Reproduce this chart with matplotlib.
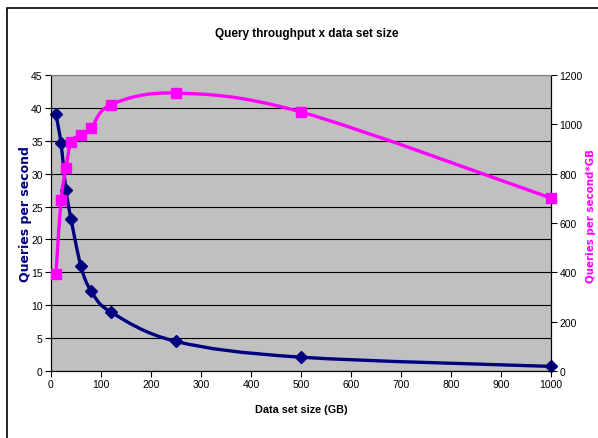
import numpy as np
import matplotlib
matplotlib.use('Agg')
import matplotlib.pyplot as plt
from matplotlib.path import Path
from matplotlib.patches import PathPatch, Rectangle

# data
size_gb = [10, 20, 30, 40, 60, 80, 120, 250, 500, 1000]
qps = [39.0, 34.6, 27.5, 23.1, 15.9, 12.2, 8.95, 4.5, 2.1, 0.7]
qps_gb = [393, 692, 823, 928, 958, 984, 1080, 1127, 1050, 701]

navy = '#000080'
magenta = '#FF00FF'

plt.rcParams['font.family'] = ['Liberation Sans', 'DejaVu Sans']


def smooth_path(x, y):
    # Excel-like smoothed line: Catmull-Rom segments turned into cubic Beziers
    x = np.asarray(x, float)
    y = np.asarray(y, float)
    pts = np.column_stack([x, y])
    verts = [pts[0]]
    codes = [Path.MOVETO]
    n = len(pts)
    for i in range(n - 1):
        p0 = pts[i - 1] if i > 0 else pts[i]
        p1 = pts[i]
        p2 = pts[i + 1]
        p3 = pts[i + 2] if i + 2 < n else pts[i + 1]
        c1 = p1 + (p2 - p0) / 6.0
        c2 = p2 - (p3 - p1) / 6.0
        verts += [c1, c2, p2]
        codes += [Path.CURVE4] * 3
    return Path(verts, codes)


W, H = 598, 439
fig = plt.figure(figsize=(W / 100, H / 100), dpi=100)
fig.patches.append(Rectangle((7 / W, -0.05), 1.0, 1 - 9 / H + 0.05,
                             transform=fig.transFigure, fill=False,
                             edgecolor='black', linewidth=1.2))

ax = fig.add_axes([51 / W, 67 / H, 500 / W, 296 / H])
ax.set_facecolor('#C0C0C0')
ax2 = ax.twinx()

# left axis series
ax.add_patch(PathPatch(smooth_path(size_gb, qps), fill=False,
                       edgecolor=navy, linewidth=2.4, zorder=3))
ax.plot(size_gb, qps, linestyle='none', marker='D', markersize=6.5,
        color=navy, zorder=4, clip_on=False)

# right axis series
ax2.add_patch(PathPatch(smooth_path(size_gb, qps_gb), fill=False,
                        edgecolor=magenta, linewidth=2.4, zorder=3))
ax2.plot(size_gb, qps_gb, linestyle='none', marker='s', markersize=7.5,
         color=magenta, zorder=4, clip_on=False)

ax.set_xlim(0, 1000)
ax.set_ylim(0, 45)
ax2.set_ylim(0, 1200)
ax.set_xticks(np.arange(0, 1001, 100))
ax.set_yticks(np.arange(0, 46, 5))
ax2.set_yticks(np.arange(0, 1201, 200))

ax.grid(axis='y', color='black', linewidth=0.8)
ax.set_axisbelow(True)

for a in (ax, ax2):
    a.tick_params(labelsize=7.5, length=4, width=0.8, pad=2)
    a.spines['top'].set_color('#808080')
    a.spines['bottom'].set_color('black')
    a.spines['left'].set_color('black')
    a.spines['right'].set_color('black')

# titles and axis labels
fig.text(307 / W, 1 - 34 / H, 'Query throughput x data set size',
         fontsize=8.5, fontweight='bold', ha='center', va='center')
fig.text(301 / W, 1 - 410 / H, 'Data set size (GB)', fontsize=7.8,
         fontweight='bold', ha='center', va='center')
fig.text(26 / W, 1 - 214 / H, 'Queries per second', fontsize=9,
         fontweight='bold', color=navy, family='DejaVu Sans',
         rotation=90, ha='center', va='center')
fig.text(591 / W, 1 - 216 / H, 'Queries per second*GB', fontsize=7.4,
         fontweight='bold', color=magenta, family='DejaVu Sans',
         rotation=90, ha='center', va='center')

fig.savefig('out.png', dpi=100)
